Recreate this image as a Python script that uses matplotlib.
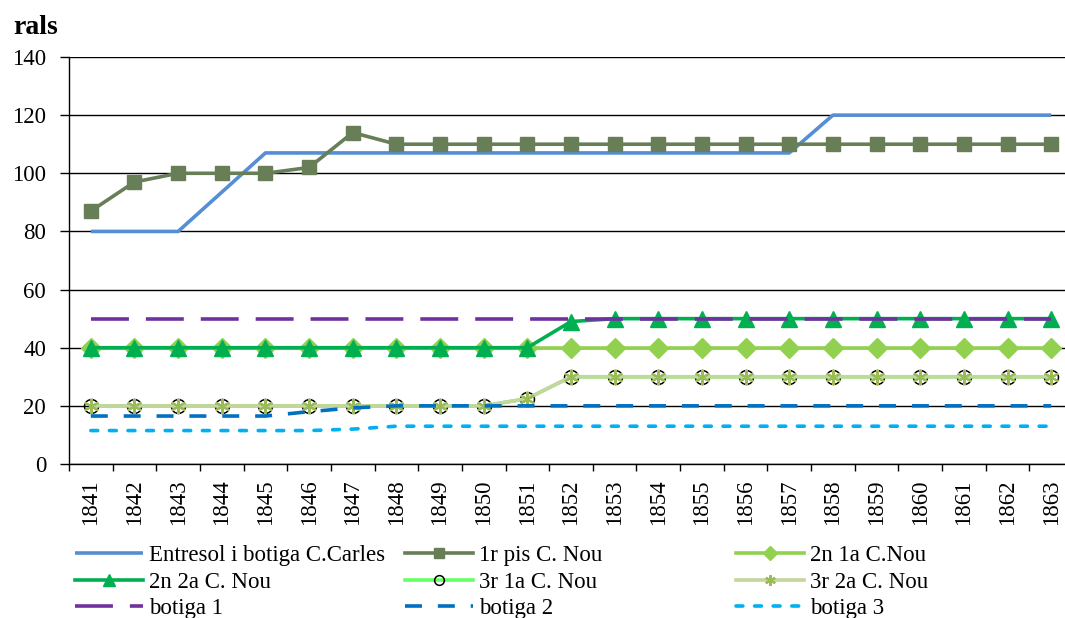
import numpy as np
import matplotlib
matplotlib.use("Agg")
import matplotlib.pyplot as plt

plt.rcParams['font.family'] = ['Liberation Serif', 'DejaVu Serif']

years = [str(y) for y in range(1841, 1864)]
entresol = [80, 80, 80, 93.5, 107, 107, 107, 107, 107, 107, 107, 107, 107, 107, 107, 107, 107, 120, 120, 120, 120, 120, 120]
pis1 = [87, 97, 100, 100, 100, 102, 114, 110, 110, 110, 110, 110, 110, 110, 110, 110, 110, 110, 110, 110, 110, 110, 110]
n2_1a = [40] * 23
n2_2a = [40, 40, 40, 40, 40, 40, 40, 40, 40, 40, 40, 49, 50, 50, 50, 50, 50, 50, 50, 50, 50, 50, 50]
r3_1a = [20, 20, 20, 20, 20, 20, 20, 20, 20, 20, 22.5, 30, 30, 30, 30, 30, 30, 30, 30, 30, 30, 30, 30]
r3_2a = [20, 20, 20, 20, 20, 20, 20, 20, 20, 20, 22.5, 30, 30, 30, 30, 30, 30, 30, 30, 30, 30, 30, 30]
botiga1 = [50] * 23
botiga2 = [16.5, 16.5, 16.5, 16.5, 16.5, 18, 19.3, 20, 20, 20, 20, 20, 20, 20, 20, 20, 20, 20, 20, 20, 20, 20, 20]
botiga3 = [11.5, 11.5, 11.5, 11.5, 11.5, 11.5, 12, 13, 13, 13, 13, 13, 13, 13, 13, 13, 13, 13, 13, 13, 13, 13, 13]
yticks = [0, 20, 40, 60, 80, 100, 120, 140]

W, H = 1065, 618
fig = plt.figure(figsize=(W / 100, H / 100), dpi=100)
ax = fig.add_axes([69 / W, 1 - 464 / H, (1073 - 69) / W, (464 - 57) / H])
x = np.arange(len(years))
lw = 2.6

h = {}
h['Entresol i botiga C.Carles'], = ax.plot(x, entresol, color='#558ED5', lw=lw, solid_capstyle='butt', zorder=3)
h['1r pis C. Nou'], = ax.plot(x, pis1, color='#677E56', lw=lw, marker='s', ms=10.5, zorder=3)
h['2n 1a C.Nou'], = ax.plot(x, n2_1a, color='#92D050', lw=lw, marker='D', ms=10.5, zorder=3)
h['2n 2a C. Nou'], = ax.plot(x, n2_2a, color='#00B050', lw=lw, marker='^', ms=12, zorder=3)
h['3r 1a C. Nou'], = ax.plot(x, r3_1a, color='#66FF66', lw=lw, marker='o', ms=10,
                            mfc='none', mec='black', mew=1.1, zorder=3)
h['3r 2a C. Nou'], = ax.plot(x, r3_2a, color='#C3D69B', lw=lw, marker=(6, 2, 0), ms=11,
                            mec='#9BBB59', mew=1.5, zorder=3)
h['botiga 1'], = ax.plot(x, botiga1, color='#7030A0', lw=lw, dashes=(10.5, 4.7), zorder=3)
h['botiga 2'], = ax.plot(x, botiga2, color='#0070C0', lw=lw, dashes=(4.7, 4.4), zorder=3)
h['botiga 3'], = ax.plot(x, botiga3, color='#00B0F0', lw=lw, dashes=(1.9, 3.25),
                         dash_capstyle='round', zorder=3)

ax.set_xlim(-0.5, len(years) - 0.5)
ax.set_ylim(0, 140)
ax.set_yticks(yticks)
ax.set_yticklabels([str(v) for v in yticks], fontsize=16.5)
ax.yaxis.grid(True, color='black', lw=1.0)
ax.set_axisbelow(True)
ax.set_xticks(x)
ax.set_xticklabels(years, rotation=90, fontsize=16.5)
ax.set_xticks(np.arange(-0.5, len(years), 1), minor=True)
ax.tick_params(axis='x', which='major', length=0, pad=11)
ax.tick_params(axis='x', which='minor', length=5, width=1, direction='out')
ax.tick_params(axis='y', length=6.5, width=1, direction='out', pad=10)
for s in ['top', 'right']:
    ax.spines[s].set_visible(False)
for s in ['left', 'bottom']:
    ax.spines[s].set_color('black')
    ax.spines[s].set_linewidth(1.0)

fig.text(13 / W, 1 - 28 / H, 'rals', fontsize=20, fontweight='bold', va='center', ha='left')

cols = [['Entresol i botiga C.Carles', '2n 2a C. Nou', 'botiga 1'],
        ['1r pis C. Nou', '3r 1a C. Nou', 'botiga 2'],
        ['2n 1a C.Nou', '3r 2a C. Nou', 'botiga 3']]
xpos = [75, 405, 736]
for labels, xp in zip(cols, xpos):
    fig.legend([h[l] for l in labels], labels, loc='upper left',
               bbox_to_anchor=(xp / W, 1 - 545 / H), frameon=False,
               fontsize=16.5, handlelength=2.97, handletextpad=0.26,
               labelspacing=0.24, borderpad=0, borderaxespad=0, numpoints=1,
               markerscale=0.7)

fig.savefig('out.png', dpi=100)
